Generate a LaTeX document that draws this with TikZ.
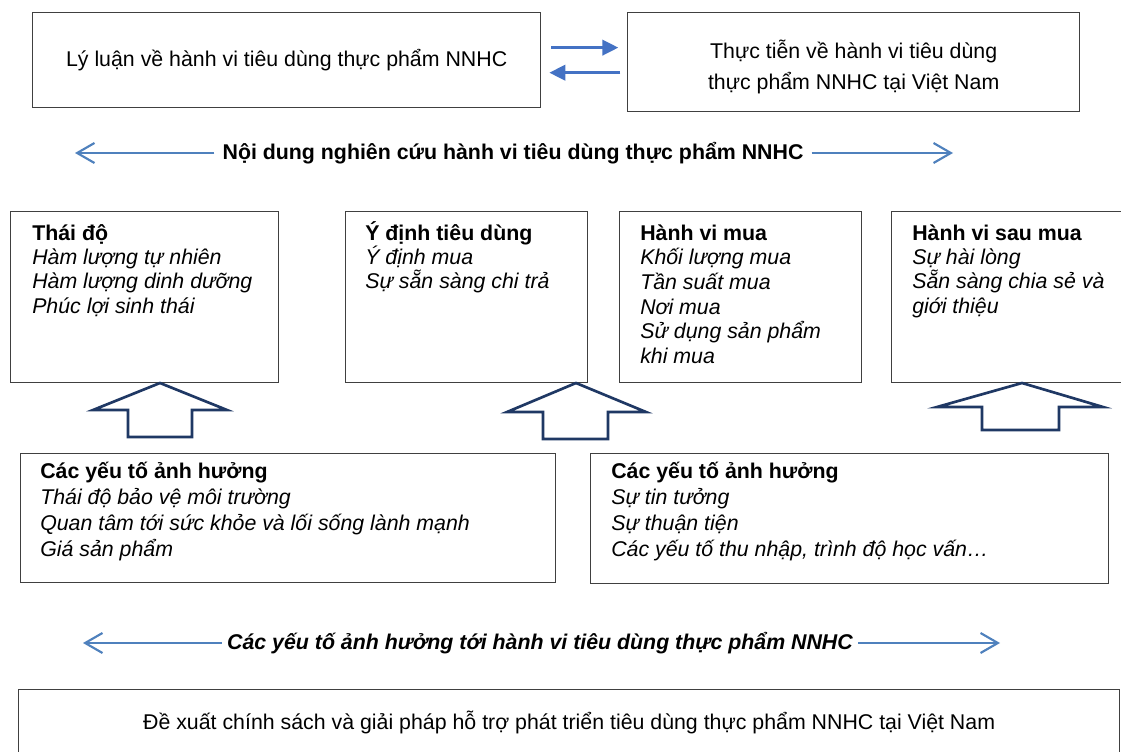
\documentclass[tikz,border=0pt]{standalone}
\usepackage{fontspec}
\setmainfont{Liberation Sans}
\usetikzlibrary{arrows.meta}
\definecolor{boxgray}{HTML}{404040}
\definecolor{navy}{HTML}{1F3864}
\definecolor{arrblue}{HTML}{4472C4}
\definecolor{lineblue}{HTML}{4F81BD}
\newcommand{\topstrut}{\rule{0pt}{18pt}}

\begin{document}
\begin{tikzpicture}[x=0.75pt,y=-0.75pt]
  \tikzset{box/.style 2 args={draw=boxgray, line width=1pt, anchor=north west, inner sep=0pt,
             minimum width=#1*0.75pt, minimum height=#2*0.75pt}}
  \tikzset{txt/.style={anchor=north west, inner sep=0pt, align=left, font=\fontsize{16}{18.2}\selectfont}}
  \tikzset{ctxt/.style={inner sep=0pt, align=center, font=\fontsize{16}{22.8}\selectfont}}
  \tikzset{toparrow/.style={draw=arrblue, line width=2.2pt, -{Triangle[length=12pt,width=11.5pt]}}}
  \tikzset{midarrow/.style={draw=lineblue, line width=1.6pt, -{Straight Barb[length=13pt,width=15pt,line width=1.6pt]}}}
  \tikzset{barrow/.style={draw=navy, line width=2pt, fill=white, line join=miter}}
  \useasboundingbox (0,0) rectangle (1121,752);
  \clip (0,0) rectangle (1121,752);
  \fill[white] (0,0) rectangle (1121,752);

  % top row
  \node[box={508}{95}] (L1) at (32,12) {};
  \node[box={452}{99}] (R1) at (627,12) {};
  \node[ctxt] (LT) at (L1.center) {Lý luận về hành vi tiêu dùng thực phẩm NNHC};
  \node[ctxt] (RT) at ([yshift=-3.5pt]R1.center) {Thực tiễn về hành vi tiêu dùng\\thực phẩm NNHC tại Việt Nam};
  \draw[toparrow, shorten <=7.5pt, shorten >=6.5pt] ([yshift=9.4pt]L1.east) -- ([yshift=9.4pt]L1.east -| R1.west);
  \draw[toparrow, shorten <=5pt, shorten >=6pt] ([yshift=-9.4pt]L1.east -| R1.west) -- ([yshift=-9.4pt]L1.east);

  % research content
  \node[ctxt, inner xsep=6pt, font=\fontsize{16}{18}\selectfont\bfseries] (M1) at (513,153)
    {Nội dung nghiên cứu hành vi tiêu dùng thực phẩm NNHC};
  \coordinate (M1l) at (75,153);
  \coordinate (M1r) at (953,153);
  \draw[midarrow] (M1.west) -- (M1l);
  \draw[midarrow] (M1.east) -- (M1r);

  % behaviour boxes
  \node[box={268}{171}] (B1) at (10,211) {};
  \node[box={242}{171}] (B2) at (345,211) {};
  \node[box={242}{171}] (B3) at (619,211) {};
  \node[box={260}{171}] (B4) at (891,211) {};
  \node[txt] (T1) at ([shift={(22,5)}]B1.north west)
    {\topstrut\textbf{Thái độ}\\\itshape Hàm lượng tự nhiên\\\itshape Hàm lượng dinh dưỡng\\\itshape Phúc lợi sinh thái};
  \node[txt] (T2) at ([shift={(20,5)}]B2.north west)
    {\topstrut\textbf{Ý định tiêu dùng}\\\itshape Ý định mua\\\itshape Sự sẵn sàng chi trả};
  \node[txt, font=\fontsize{16}{18.5}\selectfont] (T3) at ([shift={(21,5)}]B3.north west)
    {\topstrut\textbf{Hành vi mua}\\\itshape Khối lượng mua\\\itshape Tần suất mua\\\itshape Nơi mua\\\itshape Sử dụng sản phẩm\\\itshape khi mua};
  \node[txt] (T4) at ([shift={(21,5)}]B4.north west)
    {\topstrut\textbf{Hành vi sau mua}\\\itshape Sự hài lòng\\\itshape Sẵn sàng chia sẻ và\\\itshape giới thiệu};

  % block arrows
  \draw[barrow] (160,383) -- (227,410) -- (192,410) -- (192,437) -- (128,437) -- (128,410) -- (93,410) -- cycle;
  \draw[barrow] (576,383) -- (646,412) -- (608,412) -- (608,439) -- (543,439) -- (543,412) -- (507,412) -- cycle;
  \draw[barrow] (1022,383) -- (1103,407) -- (1059,407) -- (1059,430) -- (982,430) -- (982,407) -- (937,407) -- cycle;

  % factor boxes
  \node[box={535}{129}] (B5) at (20,453) {};
  \node[box={518}{130}] (B6) at (590,453) {};
  \node[txt, font=\fontsize{16}{19.5}\selectfont] (T5) at ([shift={(20,1)}]B5.north west)
    {\topstrut\textbf{Các yếu tố ảnh hưởng}\\\itshape Thái độ bảo vệ môi trường\\\itshape Quan tâm tới sức khỏe và lối sống lành mạnh\\\itshape Giá sản phẩm};
  \node[txt, font=\fontsize{16}{19.5}\selectfont] (T6) at ([shift={(21,1)}]B6.north west)
    {\topstrut\textbf{Các yếu tố ảnh hưởng}\\\itshape Sự tin tưởng\\\itshape Sự thuận tiện\\\itshape Các yếu tố thu nhập, trình độ học vấn…};

  % factors line
  \node[ctxt, inner xsep=4pt, font=\fontsize{16}{18}\selectfont\bfseries\itshape] (M2) at (540,643)
    {Các yếu tố ảnh hưởng tới hành vi tiêu dùng thực phẩm NNHC};
  \coordinate (M2l) at (83,643);
  \coordinate (M2r) at (1000,643);
  \draw[midarrow] (M2.west) -- (M2l);
  \draw[midarrow] (M2.east) -- (M2r);

  % proposal box
  \node[box={1101}{100}] (B7) at (18,689) {};
  \node[ctxt] (T7) at ([yshift=-33*0.75pt]B7.north) {Đề xuất chính sách và giải pháp hỗ trợ phát triển tiêu dùng thực phẩm NNHC tại Việt Nam};
\end{tikzpicture}
\end{document}
